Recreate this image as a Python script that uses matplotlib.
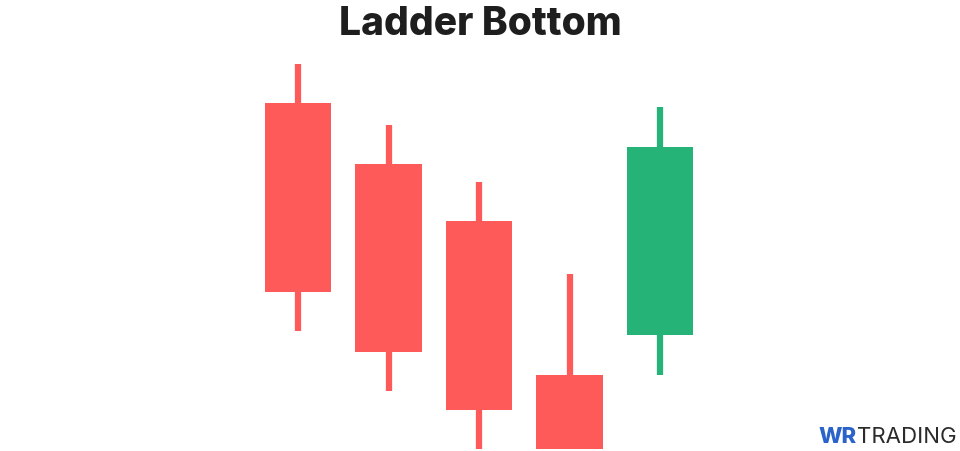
import matplotlib.pyplot as plt

# candle data (price units)
opens = [349, 288, 231, 77, 117]
closes = [160, 100, 42, 3, 305]
highs = [388, 327, 270, 178, 345]
lows = [121, 61, 3, 3, 77]

up_color = '#26b378'
down_color = '#ff5a5a'

fig = plt.figure(figsize=(9.6, 4.52), dpi=100)
ax = fig.add_axes([0, 0, 1, 1])

for i in range(len(opens)):
    o, c, h, l = opens[i], closes[i], highs[i], lows[i]
    color = up_color if c >= o else down_color
    ax.vlines(i, l, h, color=color, linewidth=4.5, zorder=1)
    ax.bar(i, abs(c - o), bottom=min(o, c), width=0.73, color=color, zorder=2)

ax.set_xlim(-3.293, 7.315)
ax.set_ylim(1, 453)
ax.axis('off')

fig.text(0.5, 0.946, 'Ladder Bottom', ha='center', va='center',
         fontsize=28, fontweight='heavy', family='Inter', color='#1e1e1e')
fig.text(0.853, 0.012, 'WR', ha='left', va='bottom', fontsize=16,
         fontweight='heavy', family='Inter', color='#2a63c9')
fig.text(0.893, 0.012, 'TRADING', ha='left', va='bottom', fontsize=16,
         family='Inter', color='#2b2b2b')

fig.savefig('out.png', dpi=100)
